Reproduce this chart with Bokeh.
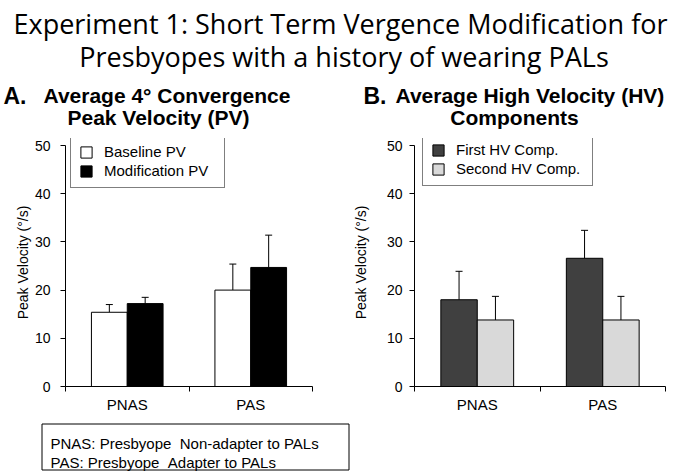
from bokeh.plotting import figure
from bokeh.layouts import column, row
from bokeh.models import (Range1d, FixedTicker, Whisker, TeeHead, ColumnDataSource,
                          Legend, LegendItem)
from bokeh.core.properties import value
from bokeh.embed import file_html
from bokeh.resources import INLINE

# ---------------- data ----------------
categories = ["PNAS", "PAS"]
y_ticks = [0, 10, 20, 30, 40, 50]

baseline_pv = [15.4, 20.0]
baseline_err = [1.6, 5.4]
modification_pv = [17.2, 24.7]
modification_err = [1.3, 6.7]

first_hv = [18.0, 26.6]
first_err = [5.9, 5.8]
second_hv = [13.8, 13.8]
second_err = [4.9, 4.9]

ARIAL_S = "Liberation Sans"
ARIAL = value(ARIAL_S)
TITLE_FONT = value("Open Sans")

Y_MAX = 50
HEADROOM_PX = 7          # frame extends a few px above the 50 tick (room for legend box)
AXIS_PX = 241            # pixel height of 0..50


def panel(width, b_left, b_right, series, legend_loc, label_width, tick_standoff, axis_standoff):
    y_end = Y_MAX * (1 + HEADROOM_PX / AXIS_PX)
    p = figure(width=width, height=286, x_range=Range1d(0, 2), y_range=Range1d(0, y_end),
               output_backend="svg", toolbar_location=None,
               min_border_left=b_left, min_border_right=b_right,
               min_border_top=13 - HEADROOM_PX, min_border_bottom=32)
    p.outline_line_color = None
    p.grid.visible = False
    p.background_fill_color = "white"
    p.border_fill_color = "white"

    items = []
    n = len(series)
    for k, (vals, errs, col, lab) in enumerate(series):
        off = (k - (n - 1) / 2) * 0.29
        xs = [i + 0.5 + off for i in range(len(categories))]
        src = ColumnDataSource(dict(x=xs, top=vals,
                                    upper=[v + e for v, e in zip(vals, errs)],
                                    lower=list(vals)))
        r = p.vbar(x="x", top="top", bottom=0, width=0.29, source=src,
                   fill_color=col, line_color="black", line_width=1)
        w = Whisker(source=src, base="x", upper="upper", lower="lower",
                    dimension="height", line_color="black", line_width=1,
                    lower_head=None,
                    upper_head=TeeHead(size=7, line_color="black", line_width=1))
        p.add_layout(w)
        items.append(LegendItem(label=lab, renderers=[r]))

    legend = Legend(items=items, location=legend_loc, orientation="vertical",
                    margin=0, padding=8, spacing=2, glyph_width=14, glyph_height=14,
                    label_height=15, label_width=label_width, label_standoff=11,
                    label_text_font=ARIAL_S, label_text_font_size="15px",
                    label_text_color="black",
                    border_line_color="black", border_line_width=1,
                    background_fill_color="white", background_fill_alpha=1.0)
    p.add_layout(legend)

    # x axis
    xa = p.xaxis[0]
    xa.ticker = FixedTicker(ticks=[i + 0.5 for i in range(len(categories))],
                            minor_ticks=list(range(len(categories) + 1)))
    xa.major_label_overrides = {i + 0.5: c for i, c in enumerate(categories)}
    xa.major_tick_out = 0
    xa.major_tick_in = 0
    xa.minor_tick_out = 5
    xa.minor_tick_in = 0
    xa.minor_tick_line_color = "black"
    xa.axis_line_color = "black"
    xa.major_label_text_font = ARIAL_S
    xa.major_label_text_font_size = "15px"
    xa.major_label_text_color = "black"
    xa.major_label_standoff = 4

    # y axis
    ya = p.yaxis[0]
    ya.ticker = FixedTicker(ticks=y_ticks)
    ya.bounds = (0, Y_MAX)
    ya.major_tick_out = 5
    ya.major_tick_in = 0
    ya.minor_tick_out = 0
    ya.minor_tick_in = 0
    ya.axis_line_color = "black"
    ya.major_tick_line_color = "black"
    ya.major_label_text_font = ARIAL_S
    ya.major_label_text_font_size = "14px"
    ya.major_label_text_color = "black"
    ya.major_label_standoff = tick_standoff
    ya.axis_label = "Peak Velocity (°/s)"
    ya.axis_label_text_font = ARIAL_S
    ya.axis_label_text_font_size = "14px"
    ya.axis_label_text_font_style = "normal"
    ya.axis_label_text_color = "black"
    ya.axis_label_standoff = axis_standoff
    return p


pA = panel(335, 65, 23,
           [(baseline_pv, baseline_err, "white", "Baseline PV"),
            (modification_pv, modification_err, "black", "Modification PV")],
           (5, 198), 112, 10, 1)

pB = panel(340, 79, 10,
           [(first_hv, first_err, "#404040", "First HV Comp."),
            (second_hv, second_err, "#d9d9d9", "Second HV Comp.")],
           (8, 200), 128, 7, 15)

# ---------------- header (titles) ----------------
hdr = figure(width=675, height=132, x_range=Range1d(0, 675), y_range=Range1d(132, 0),
             output_backend="svg", toolbar_location=None, min_border=0)
hdr.axis.visible = False
hdr.grid.visible = False
hdr.outline_line_color = None

hdr.text(x=[340, 343.5],
         y=[23, 56],
         text=["Experiment 1: Short Term Vergence Modification for",
               "Presbyopes with a history of wearing PALs"],
         text_font=TITLE_FONT, text_font_size="27px", text_color="black",
         text_align="center", text_baseline="alphabetic")

hdr.text(x=[3, 363], y=[95, 95], text=["A.", "B."],
         text_font=ARIAL, text_font_size="23px", text_font_style="bold",
         text_color="black", text_align="left", text_baseline="alphabetic")

hdr.text(x=[43, 395], y=[95, 95],
         text=["Average 4° Convergence", "Average High Velocity (HV)"],
         text_font=ARIAL, text_font_size="21px", text_font_style="bold",
         text_color="black", text_align="left", text_baseline="alphabetic")

hdr.text(x=[158, 514], y=[117, 117],
         text=["Peak Velocity (PV)", "Components"],
         text_font=ARIAL, text_font_size="21px", text_font_style="bold",
         text_color="black", text_align="center", text_baseline="alphabetic")

# ---------------- footnote box ----------------
note = figure(width=675, height=55, x_range=Range1d(0, 675), y_range=Range1d(55, 0),
              output_backend="svg", toolbar_location=None, min_border=0)
note.axis.visible = False
note.grid.visible = False
note.outline_line_color = None
note.quad(left=[41.5], right=[348.5], top=[5.5], bottom=[51.5],
          fill_color="white", line_color="black", line_width=1)
note.text(x=[50, 50], y=[25, 44],
          text=["PNAS: Presbyope \u00a0Non-adapter to PALs",
                "PAS: Presbyope \u00a0Adapter to PALs"],
          text_font=ARIAL, text_font_size="15px", text_color="black",
          text_align="left", text_baseline="alphabetic")

layout = column(hdr, row(pA, pB, spacing=0), note, spacing=0)

open("out.html", "w").write(file_html(layout, INLINE))
